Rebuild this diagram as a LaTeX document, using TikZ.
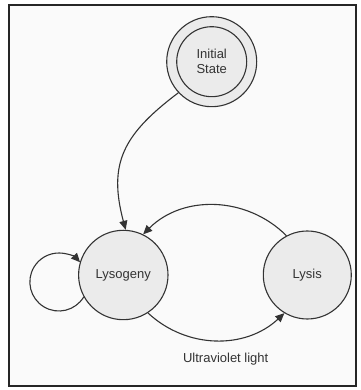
\documentclass[tikz,border=0pt]{standalone}
\usepackage{fontspec}
\setmainfont{Liberation Sans}
\usetikzlibrary{arrows.meta}
\definecolor{ink}{HTML}{333333}
\definecolor{nodefill}{HTML}{EBEBEB}
\definecolor{bg}{HTML}{FAFAFA}
\tikzset{
  state/.style={circle, draw=ink, line width=1.1pt, fill=nodefill, inner sep=0pt, text=ink,
    font=\fontsize{13}{15}\selectfont, align=center},
  conn/.style={draw=ink, line width=1.1pt, -{Triangle[length=9pt,width=8pt]}},
}
\begin{document}
\begin{tikzpicture}[x=1pt,y=1pt]
\useasboundingbox (0,0) rectangle (360,390);
\draw[line width=2pt, draw=black!85, fill=bg] (9,3.5) rectangle (356,385);
\node[state, minimum size=90pt] (init) at (211.7,328.3) {};
\node[state, minimum size=70pt] (initin) at (211.7,328.3) {Initial\\State};
\node[state, minimum size=89.4pt] (lys) at (123.3,115) {Lysogeny};
\node[state, minimum size=88pt] (lysis) at (307.3,115) {Lysis};
\draw[conn] (init.223) to[out=217, in=105, looseness=1.2] (lys.87);
\draw[conn] (lysis.118) to[out=135, in=45] (lys.64);
\draw[conn] (lys.-57) to[out=-43, in=-137] (lysis.239.5);
\draw[conn] (lys.209) arc[start angle=-31, end angle=-317, radius=29];
\node[text=ink, font=\fontsize{13}{15}\selectfont] (uv) at (225.7,31) {Ultraviolet light};
\end{tikzpicture}
\end{document}
